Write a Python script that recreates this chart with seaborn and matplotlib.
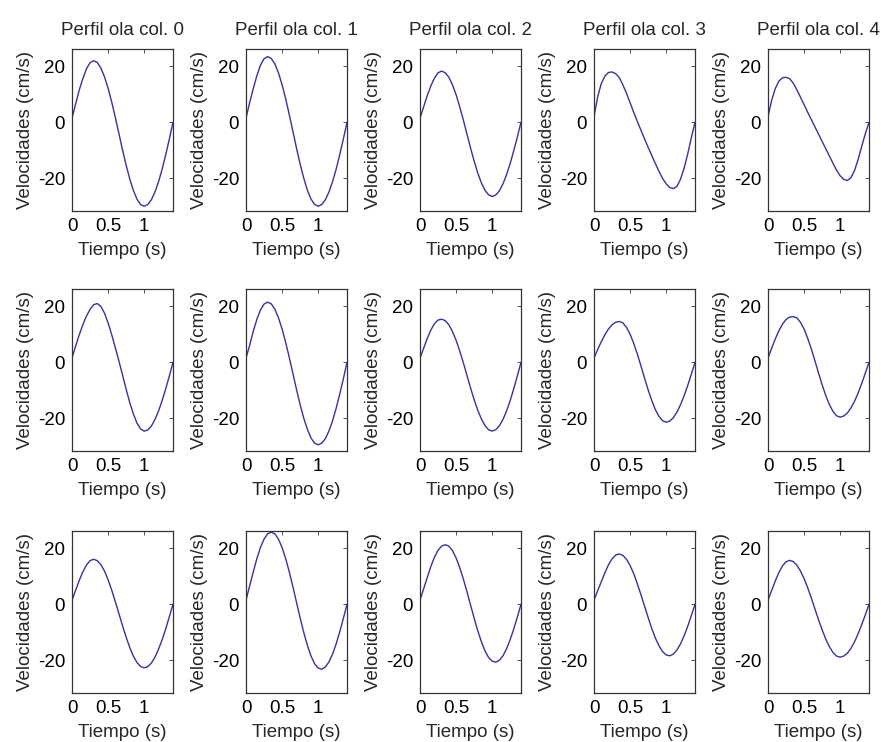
import numpy as np
import pandas as pd
import matplotlib
matplotlib.use("Agg")
import matplotlib.pyplot as plt
import seaborn as sns

# Time axis (s)
tiempo = [0.00, 0.05, 0.10, 0.15, 0.20, 0.25, 0.30, 0.35, 0.40, 0.45,
          0.50, 0.55, 0.60, 0.65, 0.70, 0.75, 0.80, 0.85, 0.90, 0.95,
          1.00, 1.05, 1.10, 1.15, 1.20, 1.25, 1.30, 1.35, 1.40]

# Velocities (cm/s), row r, column c
vel_r0_c0 = [1.5, 6.5, 11.5, 15.6, 19.1, 21.3, 22.0, 21.4, 19.4, 16.3,
             12.2, 7.3, 1.8, -4.0, -9.8, -15.3, -20.2, -24.3, -27.4, -29.4,
             -30.0, -29.4, -27.7, -24.9, -21.2, -16.7, -11.5, -5.9, 0.0]
vel_r0_c1 = [1.5, 7.0, 12.0, 16.6, 20.4, 22.7, 23.5, 22.8, 20.9, 17.7,
             13.4, 8.4, 2.7, -3.25, -9.2, -14.9, -19.9, -24.2, -27.4, -29.3,
             -30.0, -29.4, -27.7, -24.9, -21.2, -16.7, -11.5, -5.9, 0.0]
vel_r0_c2 = [1.5, 5.5, 9.5, 13.0, 15.8, 17.7, 18.3, 17.7, 16.1, 13.4,
             9.9, 5.6, 0.9, -4.1, -9.1, -13.8, -18.1, -21.6, -24.3, -25.9,
             -26.5, -26.0, -24.5, -22.0, -18.7, -14.7, -10.1, -5.2, 0.0]
vel_r0_c3 = [2.0, 9.0, 13.8, 16.5, 17.8, 18.0, 17.4, 16.0, 13.4, 10.4,
             7.0, 3.6, 0.4, -2.8, -5.9, -8.9, -11.8, -14.7, -17.5, -20.0,
             -22.0, -23.3, -23.7, -22.9, -20.3, -16.3, -11.2, -5.4, 0.0]
vel_r0_c4 = [2.0, 7.8, 12.0, 14.7, 15.9, 16.1, 15.6, 14.0, 11.6, 9.0,
             6.3, 3.6, 1.0, -1.6, -4.2, -6.8, -9.4, -12.0, -14.6, -17.1,
             -19.1, -20.4, -20.8, -19.8, -17.2, -13.2, -8.5, -4.0, 0.0]

vel_r1_c0 = [1.5, 5.8, 9.8, 13.4, 16.5, 18.9, 20.6, 21.0, 20.0, 17.6,
             14.1, 9.9, 5.3, 0.5, -4.5, -9.6, -14.3, -18.4, -21.7, -23.8,
             -24.6, -24.2, -22.8, -20.4, -17.4, -13.6, -9.4, -4.8, 0.0]
vel_r1_c1 = [1.5, 6.0, 11.0, 15.3, 18.7, 20.8, 21.5, 20.9, 19.0, 15.9,
             11.9, 7.1, 1.7, -4.0, -9.7, -15.1, -19.9, -23.9, -27.0, -28.9,
             -29.5, -28.9, -27.3, -24.5, -20.9, -16.4, -11.3, -5.8, 0.0]
vel_r1_c2 = [1.5, 5.0, 8.5, 11.5, 13.8, 15.1, 15.4, 14.9, 13.4, 11.0,
             7.9, 4.1, -0.1, -4.6, -9.1, -13.3, -17.1, -20.2, -22.6, -24.1,
             -24.6, -24.1, -22.7, -20.4, -17.4, -13.7, -9.4, -4.8, 0.0]
vel_r1_c3 = [1.5, 4.5, 7.3, 9.8, 11.9, 13.4, 14.3, 14.6, 14.1, 12.5,
             10.1, 6.8, 3.0, -1.2, -5.6, -9.8, -13.6, -16.9, -19.3, -20.9,
             -21.4, -21.0, -19.8, -17.8, -15.1, -11.9, -8.2, -4.2, 0.0]
vel_r1_c4 = [1.5, 5.0, 8.3, 11.2, 13.6, 15.3, 16.2, 16.3, 15.9, 14.3,
             11.9, 8.6, 4.8, 0.6, -3.8, -8.0, -11.8, -15.1, -17.5, -19.1,
             -19.6, -19.2, -18.1, -16.3, -13.9, -10.9, -7.5, -3.8, 0.0]

vel_r2_c0 = [1.5, 5.0, 8.5, 11.6, 14.0, 15.6, 16.1, 15.6, 14.2, 11.9,
             8.8, 5.1, 1.0, -3.3, -7.6, -11.7, -15.4, -18.5, -20.8, -22.2,
             -22.7, -22.3, -21.0, -18.9, -16.0, -12.6, -8.7, -4.4, 0.0]
vel_r2_c1 = [1.5, 6.5, 11.5, 16.3, 20.3, 23.3, 25.2, 25.8, 25.2, 23.3,
             20.3, 16.3, 11.6, 6.3, 0.7, -4.8, -10.0, -14.6, -18.4, -21.2,
             -22.8, -23.2, -22.4, -20.6, -17.8, -14.1, -9.8, -5.0, 0.0]
vel_r2_c2 = [1.5, 5.5, 9.5, 13.5, 16.8, 19.3, 20.8, 21.3, 20.8, 19.2,
             16.6, 13.2, 9.1, 4.6, -0.2, -4.9, -9.4, -13.3, -16.6, -19.0,
             -20.3, -20.7, -20.0, -18.4, -15.9, -12.6, -8.8, -4.5, 0.0]
vel_r2_c3 = [1.5, 4.8, 8.0, 11.2, 14.1, 16.2, 17.6, 18.0, 17.5, 16.1,
             13.9, 11.0, 7.4, 3.5, -0.6, -4.7, -8.6, -12.0, -14.8, -16.9,
             -18.1, -18.4, -17.8, -16.3, -14.1, -11.2, -7.8, -4.0, 0.0]
vel_r2_c4 = [1.5, 4.9, 8.3, 11.3, 13.7, 15.2, 15.7, 15.3, 14.0, 11.9,
             9.2, 5.9, 2.3, -1.6, -5.5, -9.1, -12.4, -15.1, -17.2, -18.5,
             -18.9, -18.5, -17.5, -15.7, -13.4, -10.5, -7.2, -3.7, 0.0]

series = [
    [vel_r0_c0, vel_r0_c1, vel_r0_c2, vel_r0_c3, vel_r0_c4],
    [vel_r1_c0, vel_r1_c1, vel_r1_c2, vel_r1_c3, vel_r1_c4],
    [vel_r2_c0, vel_r2_c1, vel_r2_c2, vel_r2_c3, vel_r2_c4],
]
titles = ["Perfil ola col. 0", "Perfil ola col. 1", "Perfil ola col. 2",
          "Perfil ola col. 3", "Perfil ola col. 4"]
xticks = [0, 0.5, 1]
xticklabels = ["0", "0.5", "1"]
yticks = [-20, 0, 20]
yticklabels = ["-20", "0", "20"]

sns.set_theme(style="white")
plt.rcParams["font.family"] = ["Liberation Sans", "DejaVu Sans"]

W, H = 881, 742
fig = plt.figure(figsize=(W / 100, H / 100), dpi=100)
fig.patch.set_facecolor("white")

lefts = [72, 246, 420, 594, 768]
tops = [49, 289, 531]
aw, ah = 101, 162
line_color = "#34349a"
edge = "#333333"
fs = 13.5

for r in range(3):
    for c in range(5):
        ax = fig.add_axes([lefts[c] / W, (H - tops[r] - ah) / H, aw / W, ah / H])
        df = pd.DataFrame({"t": tiempo, "v": series[r][c]})
        sns.lineplot(data=df, x="t", y="v", ax=ax, color=line_color, linewidth=1.0)
        ax.set_xlim(0, 1.4)
        ax.set_ylim(-31.7, 26.2)
        ax.set_xticks(xticks)
        ax.set_xticklabels(xticklabels)
        ax.set_yticks(yticks)
        ax.set_yticklabels(yticklabels)
        ax.tick_params(direction="in", length=3, width=0.6, color=edge,
                       top=True, right=True, labelsize=fs, pad=5,
                       labelcolor="black")
        for s in ax.spines.values():
            s.set_color(edge)
            s.set_linewidth(0.9)
            s.set_visible(True)
        ax.set_xlabel("Tiempo (s)", fontsize=fs, labelpad=5)
        ax.set_ylabel("Velocidades (cm/s)", fontsize=fs, labelpad=3)
        if r == 0:
            ax.set_title(titles[c], fontsize=fs, pad=10)
        ax.set_facecolor("white")
        ax.grid(False)

fig.savefig("out.png", dpi=100, facecolor="white")
